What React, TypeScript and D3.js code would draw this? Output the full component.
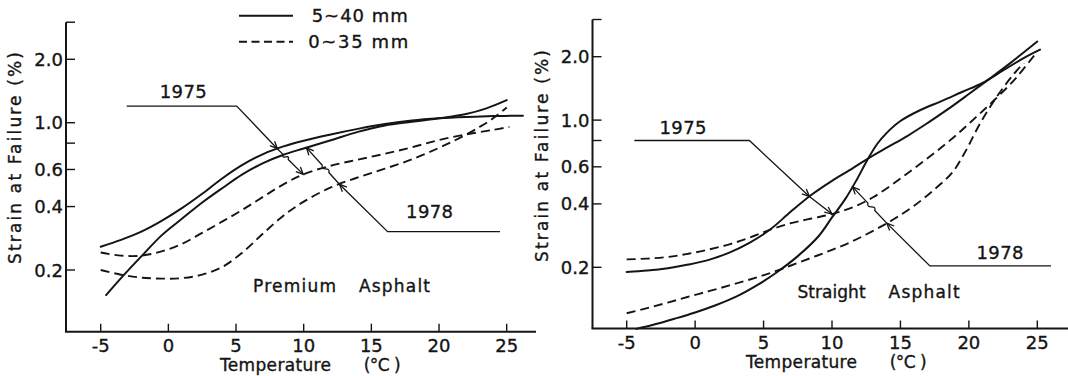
import React from "react";
import * as d3 from "d3";

type Pt = [number, number];

// Axis ticks
const TEMP_TICKS = [-5, 0, 5, 10, 15, 20, 25];
const STRAIN_TICKS = [3.0, 2.0, 1.0, 0.8, 0.6, 0.4, 0.2];
const STRAIN_LABELS = ["", "2.0", "1.0", "", "0.6", "0.4", "0.2"];

// Premium asphalt: [temperature °C, strain at failure %]
const premiumSolid1975: Pt[] = [
  [-5, 0.258], [-3.5, 0.278], [-2, 0.304], [-0.5, 0.342], [1, 0.393], [2.5, 0.46],
  [4, 0.545], [5.5, 0.632], [7, 0.71], [8.5, 0.772], [10, 0.822], [12, 0.88],
  [14, 0.935], [16, 0.985], [18, 1.025], [20, 1.05], [22, 1.065], [24, 1.075], [26.2, 1.08],
];
const premiumSolid1978: Pt[] = [
  [-4.6, 0.152], [-3.5, 0.183], [-2, 0.232], [-0.5, 0.292], [1, 0.35], [2.5, 0.418],
  [4, 0.49], [5.5, 0.57], [7, 0.643], [8.5, 0.705], [10, 0.755], [12, 0.825],
  [14, 0.905], [16, 0.97], [18, 1.01], [20, 1.05], [22, 1.1], [23.5, 1.17], [25, 1.28],
];
const premiumDash1975: Pt[] = [
  [-5, 0.242], [-3.5, 0.234], [-2, 0.234], [-0.5, 0.245], [1, 0.266], [2.5, 0.3],
  [4, 0.34], [5.5, 0.387], [7, 0.445], [8.5, 0.51], [10, 0.57], [12, 0.625],
  [14, 0.668], [16, 0.712], [18, 0.765], [20, 0.828], [22, 0.88], [24, 0.925], [25.2, 0.955],
];
const premiumDash1978: Pt[] = [
  [-5, 0.2], [-3.5, 0.19], [-2, 0.184], [-0.5, 0.182], [1, 0.183], [2.5, 0.19],
  [4, 0.207], [5.5, 0.243], [7, 0.298], [8.5, 0.362], [10, 0.422], [12, 0.493],
  [14, 0.55], [16, 0.605], [18, 0.67], [20, 0.76], [21.5, 0.845], [23, 0.955], [24, 1.05], [25, 1.18],
];

// Straight asphalt
const straightSolid1975: Pt[] = [
  [-5, 0.19], [-3.5, 0.193], [-2, 0.198], [-0.5, 0.206], [1, 0.217], [2.5, 0.235],
  [4, 0.262], [5.5, 0.303], [7, 0.368], [8.5, 0.442], [10, 0.515], [11.5, 0.59],
  [12.6, 0.655], [14, 0.74], [15.5, 0.84], [17, 0.97], [18.5, 1.13], [20, 1.33],
  [21.5, 1.57], [23, 1.86], [25, 2.36],
];
const straightSolid1978: Pt[] = [
  [-4.3, 0.102], [-3, 0.107], [-1.5, 0.114], [0, 0.122], [1.5, 0.132], [3, 0.145],
  [4.5, 0.164], [6, 0.19], [7.5, 0.226], [9, 0.28], [10, 0.345], [11, 0.425],
  [11.8, 0.52], [12.6, 0.65], [13.3, 0.77], [14, 0.87], [15, 0.99], [16.5, 1.12],
  [18, 1.23], [19.5, 1.36], [21, 1.5], [22.5, 1.72], [24, 1.97], [25.2, 2.16],
];
const straightDash1975: Pt[] = [
  [-5, 0.218], [-3.5, 0.22], [-2, 0.224], [-0.5, 0.232], [1, 0.243], [2.5, 0.257],
  [4, 0.277], [5.5, 0.302], [7, 0.324], [8.5, 0.341], [10, 0.358], [11.5, 0.385],
  [13, 0.43], [14.5, 0.5], [16, 0.59], [17.5, 0.7], [19, 0.84], [20.5, 1.03],
  [22, 1.27], [23.5, 1.6], [25, 2.12],
];
const straightDash1978: Pt[] = [
  [-5, 0.121], [-3.5, 0.128], [-2, 0.136], [-0.5, 0.145], [1, 0.154], [2.5, 0.164],
  [4, 0.175], [5.5, 0.188], [7, 0.204], [8.5, 0.222], [10, 0.242], [11.5, 0.266],
  [13, 0.298], [14.5, 0.338], [16, 0.392], [17.5, 0.47], [18.8, 0.565], [19.8, 0.72],
  [20.8, 0.96], [22, 1.28], [23.3, 1.66], [24, 1.86],
];

const LEGEND = ["5~40 mm", "0~35 mm"];
const YEARS = ["1975", "1978"];

const FONT = "'DejaVu Sans', sans-serif";
const INK = "#141414";

interface Leader {
  label: string;
  labelAt: Pt;
  start: Pt;
  bend: Pt;
  tip1: { series: Pt[]; t: number };
  tip2: { series: Pt[]; t: number };
  squiggle?: number;
}

interface PanelCfg {
  spineX: number;
  topY: number;
  bottomY: number;
  axisEndX: number;
  xRange: [number, number];
  yRange: [number, number];
  name: [string, string];
  nameAt: [number, number, number];
  titleY: number;
  solid: Pt[][];
  dashed: Pt[][];
  leaders: Leader[];
}

function valueAt(series: Pt[], t: number): number {
  for (let i = 0; i < series.length - 1; i++) {
    const [t0, v0] = series[i];
    const [t1, v1] = series[i + 1];
    if (t >= t0 && t <= t1) {
      const f = (t - t0) / (t1 - t0);
      return Math.exp(Math.log(v0) + f * (Math.log(v1) - Math.log(v0)));
    }
  }
  return series[series.length - 1][1];
}

const panels: PanelCfg[] = [
  {
    spineX: 66,
    topY: 22.2,
    bottomY: 331.7,
    axisEndX: 536,
    xRange: [100.7, 506.7],
    yRange: [270, 59.3],
    name: ["Premium", "Asphalt"],
    nameAt: [253, 359, 292],
    titleY: 158,
    solid: [premiumSolid1975, premiumSolid1978],
    dashed: [premiumDash1975, premiumDash1978],
    leaders: [
      {
        label: YEARS[0],
        labelAt: [1.1, 1.41],
        start: [-3.08, 1.2],
        bend: [5.05, 1.2],
        tip1: { series: premiumSolid1975, t: 8.05 },
        tip2: { series: premiumDash1975, t: 9.97 },
        squiggle: 0.32,
      },
      {
        label: YEARS[1],
        labelAt: [19.3, 0.379],
        start: [24.5, 0.304],
        bend: [16.2, 0.304],
        tip1: { series: premiumDash1978, t: 12.64 },
        tip2: { series: premiumSolid1978, t: 10.2 },
        squiggle: 0.42,
      },
    ],
  },
  {
    spineX: 592.5,
    topY: 19.5,
    bottomY: 328.5,
    axisEndX: 1068,
    xRange: [626.7, 1037.3],
    yRange: [267.3, 56.7],
    name: ["Straight", "Asphalt"],
    nameAt: [797.5, 888.6, 298],
    titleY: 156,
    solid: [straightSolid1975, straightSolid1978],
    dashed: [straightDash1975, straightDash1978],
    leaders: [
      {
        label: YEARS[0],
        labelAt: [-0.89, 0.919],
        start: [-4.44, 0.8],
        bend: [3.96, 0.8],
        tip1: { series: straightSolid1975, t: 8.35 },
        tip2: { series: straightDash1975, t: 10.0 },
      },
      {
        label: YEARS[1],
        labelAt: [22.27, 0.236],
        start: [26.0, 0.203],
        bend: [17.15, 0.203],
        tip1: { series: straightDash1978, t: 14.0 },
        tip2: { series: straightSolid1978, t: 11.5 },
        squiggle: 0.45,
      },
    ],
  },
];

function arrowHead(tip: Pt, from: Pt): string {
  const dx = tip[0] - from[0];
  const dy = tip[1] - from[1];
  const len = Math.hypot(dx, dy) || 1;
  const ux = dx / len;
  const uy = dy / len;
  const L = 8;
  const a = (24 * Math.PI) / 180;
  const rot = (c: number, s: number): Pt => [
    tip[0] - L * (ux * c - uy * s),
    tip[1] - L * (uy * c + ux * s),
  ];
  const p1 = rot(Math.cos(a), Math.sin(a));
  const p2 = rot(Math.cos(a), -Math.sin(a));
  return `M${p1[0]},${p1[1]}L${tip[0]},${tip[1]}L${p2[0]},${p2[1]}`;
}

// Lettering with a slightly heavier stroke, like drafted labels
const txt = { fontFamily: FONT, fill: INK, stroke: INK, strokeWidth: 0.35 };

function Panel({ cfg }: { cfg: PanelCfg }) {
  const x = d3.scaleLinear().domain([-5, 25]).range(cfg.xRange);
  const y = d3.scaleLog().domain([0.2, 2]).range(cfg.yRange);
  const line = d3
    .line<Pt>()
    .x((d) => x(d[0]))
    .y((d) => y(d[1]))
    .curve(d3.curveCatmullRom.alpha(0.5));
  const P = (p: Pt): Pt => [x(p[0]), y(p[1])];
  const x5 = x(-5);

  return (
    <g>
      {/* axes */}
      <line x1={cfg.spineX} y1={cfg.topY} x2={cfg.spineX} y2={cfg.bottomY} stroke={INK} strokeWidth={2} />
      <line x1={cfg.spineX - 1} y1={cfg.bottomY} x2={cfg.axisEndX} y2={cfg.bottomY} stroke={INK} strokeWidth={2} />
      {TEMP_TICKS.map((t) => (
        <g key={`xt${t}`}>
          <line x1={x(t)} x2={x(t)} y1={cfg.bottomY} y2={cfg.bottomY - 8} stroke={INK} strokeWidth={1.4} />
          <text x={x(t)} y={cfg.bottomY + 20} textAnchor="middle" fontSize={18} {...txt}>
            {t}
          </text>
        </g>
      ))}
      {STRAIN_TICKS.map((v, i) => {
        const yy = v === 3.0 ? cfg.topY : y(v);
        return (
          <g key={`yt${v}`}>
            <line x1={cfg.spineX} x2={cfg.spineX + 9} y1={yy} y2={yy} stroke={INK} strokeWidth={1.4} />
            {STRAIN_LABELS[i] && (
              <text x={cfg.spineX - 3} y={yy + 6.5} textAnchor="end" fontSize={18} {...txt}>
                {STRAIN_LABELS[i]}
              </text>
            )}
          </g>
        );
      })}
      <text
        transform={`translate(${cfg.spineX - 45},${cfg.titleY}) rotate(-90)`}
        textAnchor="middle"
        fontSize={17}
        {...txt}
        textLength={212}
        lengthAdjust="spacing"
      >
        Strain at Failure (%)
      </text>
      <text x={x5 + 119.3} y={cfg.bottomY + 39} fontSize={17} {...txt} textLength={111} lengthAdjust="spacing">
        Temperature
      </text>
      <text x={x5 + 263} y={cfg.bottomY + 39} fontSize={17} {...txt} textLength={37} lengthAdjust="spacing">
        (°C )
      </text>

      {/* curves */}
      {cfg.solid.map((s, i) => (
        <path key={`s${i}`} d={line(s) || ""} fill="none" stroke={INK} strokeWidth={2} strokeLinecap="round" />
      ))}
      {cfg.dashed.map((s, i) => (
        <path key={`d${i}`} d={line(s) || ""} fill="none" stroke={INK} strokeWidth={1.9} strokeDasharray="9,5" />
      ))}

      {/* year leaders */}
      {cfg.leaders.map((ld, i) => {
        const s = P(ld.start);
        const b = P(ld.bend);
        const t1 = P([ld.tip1.t, valueAt(ld.tip1.series, ld.tip1.t)]);
        const t2 = P([ld.tip2.t, valueAt(ld.tip2.series, ld.tip2.t)]);
        let d = `M${s[0]},${s[1]}L${b[0]},${b[1]}L${t1[0]},${t1[1]}`;
        if (ld.squiggle !== undefined) {
          const f = ld.squiggle;
          const lerp = (k: number): Pt => [t1[0] + (t2[0] - t1[0]) * k, t1[1] + (t2[1] - t1[1]) * k];
          const dx = t2[0] - t1[0];
          const dy = t2[1] - t1[1];
          const len = Math.hypot(dx, dy);
          const n: Pt = [-dy / len, dx / len];
          const a = lerp(f - 0.1);
          const c = lerp(f + 0.1);
          const m1 = lerp(f - 0.02);
          const m2 = lerp(f + 0.02);
          d += `L${a[0]},${a[1]}C${m1[0] + n[0] * 6},${m1[1] + n[1] * 6} ${m2[0] - n[0] * 6},${m2[1] - n[1] * 6} ${c[0]},${c[1]}`;
        }
        d += `L${t2[0]},${t2[1]}`;
        const lab = P(ld.labelAt);
        return (
          <g key={`ld${i}`}>
            <path d={d} fill="none" stroke={INK} strokeWidth={1.3} />
            <path d={arrowHead(t1, b)} fill="none" stroke={INK} strokeWidth={1.3} />
            <path d={arrowHead(t2, t1)} fill="none" stroke={INK} strokeWidth={1.3} />
            <text
              x={lab[0]}
              y={lab[1] + 6.5}
              textAnchor="middle"
              fontSize={18}
              {...txt}
              textLength={47}
              lengthAdjust="spacing"
            >
              {ld.label}
            </text>
          </g>
        );
      })}

      {/* panel name */}
      <text x={cfg.nameAt[0]} y={cfg.nameAt[2]} fontSize={17} {...txt} textLength={cfg.nameAt[1] - cfg.nameAt[0] - 23} lengthAdjust="spacing">
        {cfg.name[0]}
      </text>
      <text x={cfg.nameAt[1]} y={cfg.nameAt[2]} fontSize={17} {...txt} textLength={71} lengthAdjust="spacing">
        {cfg.name[1]}
      </text>
    </g>
  );
}

export default function App() {
  return (
    <svg
      width={1068}
      height={376}
      viewBox="0 0 1068 376"
      style={{ position: "fixed", left: 0, top: 0, background: "#fff" }}
    >
      <rect width={1068} height={376} fill="#fff" />
      {/* legend */}
      <line x1={239} x2={293} y1={15.7} y2={15.7} stroke={INK} strokeWidth={1.9} />
      <text x={311.7} y={22.3} fontSize={18} {...txt} textLength={96} lengthAdjust="spacing">
        {LEGEND[0]}
      </text>
      <line x1={239} x2={293} y1={41.7} y2={41.7} stroke={INK} strokeWidth={1.9} strokeDasharray="8,4.5" />
      <text x={308.3} y={48.3} fontSize={18} {...txt} textLength={100} lengthAdjust="spacing">
        {LEGEND[1]}
      </text>
      {panels.map((p, i) => (
        <Panel key={i} cfg={p} />
      ))}
    </svg>
  );
}
